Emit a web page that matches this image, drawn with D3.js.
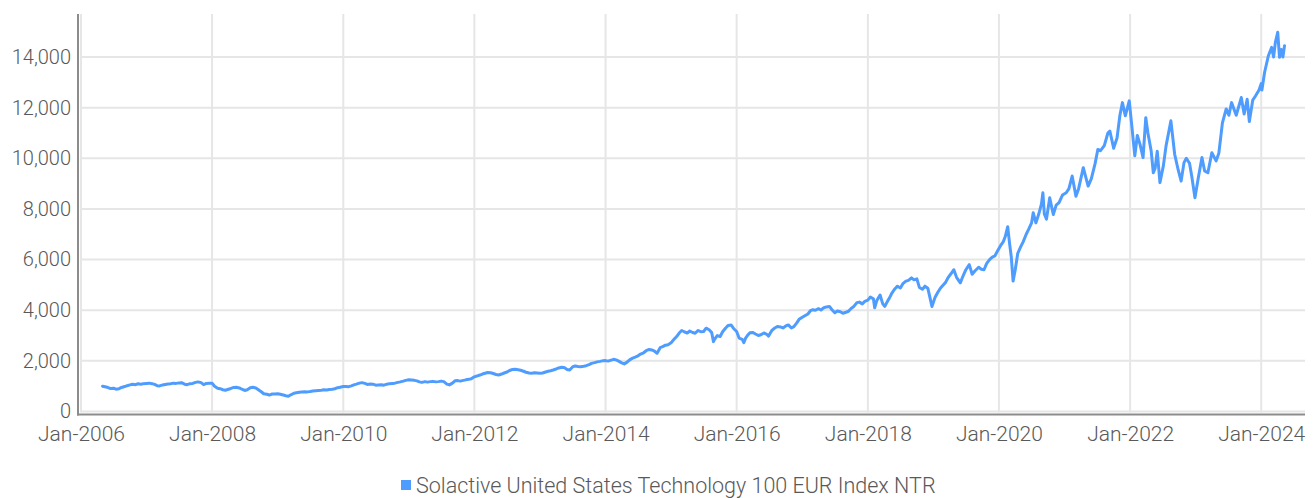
<!DOCTYPE html>
<html>
<head>
<meta charset="utf-8">
<script src="https://cdn.jsdelivr.net/npm/d3@7"></script>
<style>
  html, body { margin: 0; padding: 0; background: #ffffff; }
  svg { display: block; }
  text { font-family: Roboto, "Noto Sans", sans-serif; font-weight: 300; fill: #595959; }
</style>
</head>
<body>
<svg id="chart" width="1314" height="498"></svg>
<script>
// Index level (EUR, net total return), roughly twice a month
const observations = [
  ["2006-05-01",1000],["2006-05-15",975],["2006-06-01",945],["2006-06-15",905],["2006-07-01",920],["2006-07-15",880],
  ["2006-08-01",900],["2006-08-15",950],["2006-09-01",985],["2006-09-15",1020],["2006-10-01",1050],["2006-10-15",1075],
  ["2006-11-01",1060],["2006-11-15",1095],["2006-12-01",1080],["2006-12-15",1100],
  ["2007-01-01",1110],["2007-01-15",1120],["2007-02-01",1100],["2007-02-15",1070],["2007-03-01",1020],["2007-03-15",1010],
  ["2007-04-01",1050],["2007-04-15",1070],["2007-05-01",1090],["2007-05-15",1100],["2007-06-01",1120],["2007-06-15",1110],
  ["2007-07-01",1130],["2007-07-15",1140],["2007-08-01",1080],["2007-08-15",1060],["2007-09-01",1100],["2007-09-15",1110],
  ["2007-10-01",1150],["2007-10-15",1170],["2007-11-01",1140],["2007-11-15",1060],["2007-12-01",1110],["2007-12-15",1115],
  ["2008-01-01",1120],["2008-01-15",1000],["2008-02-01",920],["2008-02-15",900],["2008-03-01",860],["2008-03-15",840],
  ["2008-04-01",880],["2008-04-15",910],["2008-05-01",950],["2008-05-15",960],["2008-06-01",930],["2008-06-15",880],
  ["2008-07-01",830],["2008-07-15",860],["2008-08-01",940],["2008-08-15",960],["2008-09-01",930],["2008-09-15",860],
  ["2008-10-01",780],["2008-10-15",700],["2008-11-01",680],["2008-11-15",650],["2008-12-01",690],["2008-12-15",690],
  ["2009-01-01",700],["2009-01-15",680],["2009-02-01",650],["2009-02-15",620],["2009-03-01",600],["2009-03-15",660],
  ["2009-04-01",720],["2009-04-15",740],["2009-05-01",760],["2009-05-15",770],["2009-06-01",780],["2009-06-15",775],
  ["2009-07-01",790],["2009-07-15",810],["2009-08-01",820],["2009-08-15",830],["2009-09-01",840],["2009-09-15",855],
  ["2009-10-01",850],["2009-10-15",870],["2009-11-01",880],["2009-11-15",900],["2009-12-01",940],["2009-12-15",960],
  ["2010-01-01",985],["2010-01-15",990],["2010-02-01",980],["2010-02-15",1010],["2010-03-01",1050],["2010-03-15",1080],
  ["2010-04-01",1120],["2010-04-15",1140],["2010-05-01",1110],["2010-05-15",1070],["2010-06-01",1090],["2010-06-15",1080],
  ["2010-07-01",1040],["2010-07-15",1050],["2010-08-01",1060],["2010-08-15",1040],["2010-09-01",1080],["2010-09-15",1100],
  ["2010-10-01",1110],["2010-10-15",1120],["2010-11-01",1150],["2010-11-15",1170],["2010-12-01",1200],["2010-12-15",1230],
  ["2011-01-01",1250],["2011-01-15",1240],["2011-02-01",1230],["2011-02-15",1210],["2011-03-01",1170],["2011-03-15",1150],
  ["2011-04-01",1180],["2011-04-15",1160],["2011-05-01",1180],["2011-05-15",1190],["2011-06-01",1170],["2011-06-15",1180],
  ["2011-07-01",1200],["2011-07-15",1180],["2011-08-01",1080],["2011-08-15",1050],["2011-09-01",1120],["2011-09-15",1210],
  ["2011-10-01",1220],["2011-10-15",1200],["2011-11-01",1230],["2011-11-15",1250],["2011-12-01",1270],["2011-12-15",1290],
  ["2012-01-01",1370],["2012-01-15",1400],["2012-02-01",1440],["2012-02-15",1480],["2012-03-01",1510],["2012-03-15",1540],
  ["2012-04-01",1530],["2012-04-15",1500],["2012-05-01",1460],["2012-05-15",1440],["2012-06-01",1480],["2012-06-15",1520],
  ["2012-07-01",1560],["2012-07-15",1620],["2012-08-01",1660],["2012-08-15",1670],["2012-09-01",1650],["2012-09-15",1630],
  ["2012-10-01",1590],["2012-10-15",1550],["2012-11-01",1520],["2012-11-15",1510],["2012-12-01",1530],["2012-12-15",1520],
  ["2013-01-01",1510],["2013-01-15",1520],["2013-02-01",1560],["2013-02-15",1590],["2013-03-01",1610],["2013-03-15",1640],
  ["2013-04-01",1680],["2013-04-15",1720],["2013-05-01",1750],["2013-05-15",1740],["2013-06-01",1660],["2013-06-15",1640],
  ["2013-07-01",1760],["2013-07-15",1800],["2013-08-01",1780],["2013-08-15",1770],["2013-09-01",1790],["2013-09-15",1810],
  ["2013-10-01",1850],["2013-10-15",1900],["2013-11-01",1930],["2013-11-15",1960],["2013-12-01",1980],["2013-12-15",2000],
  ["2014-01-01",2010],["2014-01-15",1990],["2014-02-01",2030],["2014-02-15",2060],["2014-03-01",2040],["2014-03-15",1990],
  ["2014-04-01",1920],["2014-04-15",1880],["2014-05-01",1950],["2014-05-15",2040],["2014-06-01",2110],["2014-06-15",2150],
  ["2014-07-01",2200],["2014-07-15",2270],["2014-08-01",2320],["2014-08-15",2400],["2014-09-01",2450],["2014-09-15",2430],
  ["2014-10-01",2380],["2014-10-15",2300],["2014-11-01",2520],["2014-11-15",2560],["2014-12-01",2620],["2014-12-15",2640],
  ["2015-01-01",2720],["2015-01-15",2830],["2015-02-01",2960],["2015-02-15",3100],["2015-03-01",3200],["2015-03-15",3150],
  ["2015-04-01",3100],["2015-04-15",3180],["2015-05-01",3120],["2015-05-15",3090],["2015-06-01",3200],["2015-06-15",3150],
  ["2015-07-01",3160],["2015-07-15",3290],["2015-08-01",3230],["2015-08-15",3120],["2015-08-25",2760],["2015-09-01",2860],
  ["2015-09-15",3000],["2015-10-01",2960],["2015-10-15",3150],["2015-11-01",3300],["2015-11-15",3400],["2015-12-01",3420],
  ["2015-12-15",3280],
  ["2016-01-01",3160],["2016-01-15",2900],["2016-02-01",2850],["2016-02-10",2720],["2016-02-20",2900],["2016-03-01",3000],
  ["2016-03-15",3110],["2016-04-01",3120],["2016-04-15",3060],["2016-05-01",3000],["2016-05-15",3030],["2016-06-01",3100],
  ["2016-06-15",3060],["2016-06-27",2980],["2016-07-15",3200],["2016-08-01",3300],["2016-08-15",3360],["2016-09-01",3340],
  ["2016-09-15",3300],["2016-10-01",3380],["2016-10-15",3420],["2016-11-01",3300],["2016-11-15",3350],["2016-12-01",3500],
  ["2016-12-15",3650],
  ["2017-01-01",3720],["2017-01-15",3780],["2017-02-01",3850],["2017-02-15",3980],["2017-03-01",4020],["2017-03-15",4000],
  ["2017-04-01",4060],["2017-04-15",4010],["2017-05-01",4100],["2017-05-15",4130],["2017-06-01",4150],["2017-06-15",4020],
  ["2017-07-01",3900],["2017-07-15",3970],["2017-08-01",3940],["2017-08-15",3880],["2017-09-01",3920],["2017-09-15",3960],
  ["2017-10-01",4080],["2017-10-15",4150],["2017-11-01",4300],["2017-11-15",4320],["2017-12-01",4250],["2017-12-15",4350],
  ["2018-01-01",4400],["2018-01-15",4520],["2018-02-01",4450],["2018-02-08",4100],["2018-02-20",4380],["2018-03-10",4600],
  ["2018-03-25",4250],["2018-04-05",4150],["2018-04-20",4350],["2018-05-01",4480],["2018-05-15",4680],["2018-06-01",4850],
  ["2018-06-15",4950],["2018-07-01",4880],["2018-07-15",5050],["2018-08-01",5150],["2018-08-15",5180],["2018-09-01",5280],
  ["2018-09-15",5200],["2018-10-01",5240],["2018-10-15",4900],["2018-11-01",4830],["2018-11-15",4950],["2018-12-01",4870],
  ["2018-12-24",4150],
  ["2019-01-10",4500],["2019-01-25",4700],["2019-02-10",4880],["2019-02-25",5000],["2019-03-10",5100],["2019-03-25",5300],
  ["2019-04-10",5450],["2019-04-25",5600],["2019-05-10",5300],["2019-05-31",5080],["2019-06-15",5350],["2019-07-01",5600],
  ["2019-07-20",5800],["2019-08-05",5420],["2019-08-20",5550],["2019-09-10",5700],["2019-09-25",5620],["2019-10-10",5600],
  ["2019-10-25",5850],["2019-11-10",6000],["2019-11-25",6100],["2019-12-10",6150],["2019-12-25",6350],
  ["2020-01-10",6550],["2020-01-25",6700],["2020-02-05",6900],["2020-02-19",7300],["2020-03-01",6600],["2020-03-10",6100],
  ["2020-03-20",5150],["2020-04-01",5600],["2020-04-15",6250],["2020-05-01",6500],["2020-05-15",6700],["2020-06-01",7000],
  ["2020-06-15",7200],["2020-07-01",7450],["2020-07-10",7850],["2020-07-25",7450],["2020-08-10",7800],["2020-08-25",8200],
  ["2020-09-02",8640],["2020-09-10",7800],["2020-09-22",7600],["2020-10-10",8440],["2020-10-30",7780],["2020-11-15",8150],
  ["2020-12-01",8250],["2020-12-20",8550],
  ["2021-01-10",8640],["2021-01-25",8800],["2021-02-12",9300],["2021-03-05",8500],["2021-03-20",8800],["2021-04-15",9630],
  ["2021-05-12",8900],["2021-05-30",9200],["2021-06-20",9800],["2021-07-05",10350],["2021-07-20",10300],["2021-08-10",10500],
  ["2021-08-30",11000],["2021-09-10",11080],["2021-10-01",10400],["2021-10-20",10800],["2021-11-05",11700],["2021-11-19",12200],
  ["2021-12-05",11680],["2021-12-27",12270],
  ["2022-01-10",11300],["2022-01-27",10100],["2022-02-10",10900],["2022-02-25",10550],["2022-03-14",10030],["2022-03-29",11600],
  ["2022-04-10",11000],["2022-04-28",10300],["2022-05-10",9430],["2022-05-20",9600],["2022-06-01",10280],["2022-06-16",9040],
  ["2022-07-05",9700],["2022-07-20",10490],["2022-08-16",11480],["2022-09-06",10160],["2022-09-25",9560],["2022-10-12",9100],
  ["2022-10-28",9830],["2022-11-10",10000],["2022-11-28",9800],["2022-12-10",9300],["2022-12-28",8440],
  ["2023-01-15",9200],["2023-02-05",10030],["2023-02-20",9500],["2023-03-10",9430],["2023-04-01",10220],["2023-04-25",9900],
  ["2023-05-10",10200],["2023-05-30",11400],["2023-06-20",11950],["2023-07-05",11700],["2023-07-20",12200],["2023-08-15",11700],
  ["2023-09-12",12400],["2023-09-28",11750],["2023-10-15",12330],["2023-10-27",11450],["2023-11-15",12300],["2023-12-01",12470],
  ["2023-12-20",12700],
  ["2024-01-01",12950],["2024-01-05",12700],["2024-01-20",13400],["2024-02-10",14050],["2024-02-28",14380],["2024-03-10",14000],
  ["2024-03-20",14580],["2024-04-02",14980],["2024-04-12",13990],["2024-04-22",14300],["2024-05-01",14000],["2024-05-10",14450]
];

const seriesName = "Solactive United States Technology 100 EUR Index NTR";
const yTickValues = [0, 2000, 4000, 6000, 8000, 10000, 12000, 14000];
const xTickYears = [2006, 2008, 2010, 2012, 2014, 2016, 2018, 2020, 2022, 2024];

const parseDate = d3.timeParse("%Y-%m-%d");
const points = observations.map(([d, v]) => ({ date: parseDate(d), value: v }));

const svg = d3.select("#chart");
const plot = { left: 81, right: 1305, top: 14, bottom: 411.5 };

const x = d3.scaleTime()
  .domain([new Date(2006, 0, 1), new Date(2024, 8, 1)])
  .range([plot.left, plot.right]);

const y = d3.scaleLinear()
  .domain([0, 15700])
  .range([plot.bottom, plot.top]);

const xTicks = xTickYears.map(yr => new Date(yr, 0, 1));
const fmtX = d3.timeFormat("%b-%Y");
const fmtY = d3.format(",");

// Gridlines
const grid = svg.append("g").attr("stroke", "#e6e6e6").attr("stroke-width", 2);
grid.selectAll("line.h").data(yTickValues).join("line")
  .attr("class", "h")
  .attr("x1", plot.left).attr("x2", plot.right)
  .attr("y1", d => y(d)).attr("y2", d => y(d));
grid.selectAll("line.v").data(xTicks).join("line")
  .attr("class", "v")
  .attr("x1", d => x(d)).attr("x2", d => x(d))
  .attr("y1", plot.top).attr("y2", plot.bottom + 1);

// Axes
const yAxis = d3.axisLeft(y).tickValues(yTickValues).tickFormat(fmtY).tickSize(0).tickPadding(7);
const yg = svg.append("g").attr("transform", `translate(${plot.left - 3},0)`).call(yAxis);
yg.select(".domain").remove();
yg.selectAll("text").attr("font-size", 20).attr("fill", "#595959")
  .style("font-family", "Roboto, 'Noto Sans', sans-serif").style("font-weight", 300);

const xAxis = d3.axisBottom(x).tickValues(xTicks).tickFormat(fmtX).tickSize(0).tickPadding(12);
const xg = svg.append("g").attr("transform", `translate(0,${plot.bottom + 3})`).call(xAxis);
xg.select(".domain").remove();
xg.selectAll("text").attr("font-size", 21).attr("fill", "#595959")
  .style("font-family", "Roboto, 'Noto Sans', sans-serif").style("font-weight", 300);

// Axis lines
svg.append("line")
  .attr("x1", plot.left - 3).attr("x2", plot.left - 3)
  .attr("y1", plot.top).attr("y2", plot.bottom + 4)
  .attr("stroke", "#8c8c8c").attr("stroke-width", 2);
svg.append("line")
  .attr("x1", plot.left - 4).attr("x2", plot.right)
  .attr("y1", plot.bottom + 3).attr("y2", plot.bottom + 3)
  .attr("stroke", "#8c8c8c").attr("stroke-width", 2);

// Series line
const line = d3.line().x(d => x(d.date)).y(d => y(d.value));
svg.append("path")
  .datum(points)
  .attr("d", line)
  .attr("fill", "none")
  .attr("stroke", "#4f9cff")
  .attr("stroke-width", 3)
  .attr("stroke-linejoin", "round")
  .attr("stroke-linecap", "round");

// Legend
const legend = svg.append("g").attr("transform", "translate(401,480)");
legend.append("rect").attr("width", 10).attr("height", 10).attr("fill", "#4f9cff");
legend.append("text")
  .attr("x", 15).attr("y", 5).attr("dy", "0.35em")
  .attr("font-size", 21.5)
  .text(seriesName);
</script>
</body>
</html>
